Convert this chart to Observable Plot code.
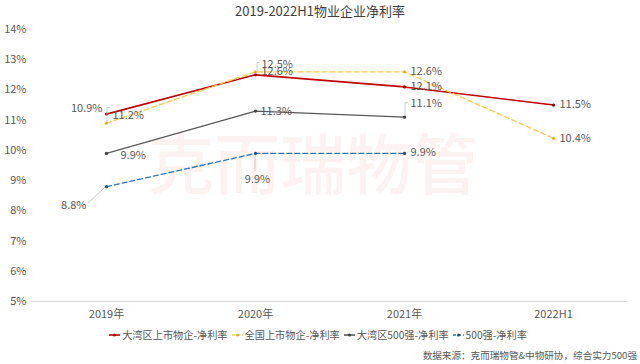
<!DOCTYPE html>
<html>
<head>
<meta charset="utf-8">
<script src="https://cdn.jsdelivr.net/npm/d3@7"></script>
<script src="https://cdn.jsdelivr.net/npm/@observablehq/plot@0.6"></script>
<style>
  html, body { margin: 0; padding: 0; background: #fff; }
  #wrap { position: relative; width: 640px; height: 364px; overflow: hidden;
          font-family: "Noto Sans CJK SC", "Noto Sans", sans-serif; color: #595959; }
  #title { position: absolute; left: 0; width: 640px; top: 1px; text-align: center;
           font-size: 13px; color: #404040; }
  #watermark { position: absolute; left: 148px; top: 112px; font-size: 66px; letter-spacing: 0px;
               color: rgba(226, 110, 100, 0.09); font-weight: 500; white-space: nowrap; }
  #chart { position: absolute; left: 0; top: 0; }
  #legend { position: absolute; left: 0; width: 640px; top: 327px; display: flex; justify-content: center;
            font-size: 10.2px; color: #595959; gap: 4px; padding-right: 4px; box-sizing: border-box; }
  .item { display: flex; align-items: center; gap: 2px; }
  #note { position: absolute; right: 3px; top: 348px; font-size: 9.6px; color: #595959; }
</style>
</head>
<body>
<div id="wrap">
  <div id="watermark"></div>
  <div id="chart"></div>
  <div id="title"></div>
  <div id="legend"></div>
  <div id="note"></div>
</div>
<script>
// ---- data ----
const titleText = "2019-2022H1物业企业净利率";
const years = ["2019年", "2020年", "2021年", "2022H1"];
const seriesNames = ["大湾区上市物企-净利率", "全国上市物企-净利率", "大湾区500强-净利率", "500强-净利率"];
const gbaListed = [11.2, 12.5, 12.1, 11.5];
const nationalListed = [10.9, 12.6, 12.6, 10.4];
const gba500 = [9.9, 11.3, 11.1, null];
const top500 = [8.8, 9.9, 9.9, null];
const yTicks = [5, 6, 7, 8, 9, 10, 11, 12, 13, 14];
const noteText = "数据来源：克而瑞物管&中物研协，综合实力500强";
const watermarkText = "克而瑞物管";

// ---- styles ----
const styles = [
  {stroke: "#C00000", dot: "#A00000", dash: null, width: 1.6},
  {stroke: "#F7CB4D", dot: "#E0B030", dash: "5,3", width: 1.3},
  {stroke: "#595959", dot: "#404040", dash: null, width: 1.2},
  {stroke: "#2E75B6", dot: "#1F4E79", dash: "5,3", width: 1.3}
];
// label placement per series/year: [dx, dy, anchor, leader]
const place = [
  [[6, 1, "start"], [6, -10, "start", "up"], [6, 0, "start"], [6, -1, "start"]],
  [[-4, -15, "end", "v"], [6, 0, "start"], [6, 0, "start"], [6, 0, "start"]],
  [[14, 2, "start"], [5, 0, "start"], [6, -14, "start", "v"], null],
  [[-20, 19, "end", "diag"], [2, 26, "middle", "down"], [6, -1, "start"], null]
];

const allSeries = [gbaListed, nationalListed, gba500, top500];
const rows = [];
allSeries.forEach((vals, s) => vals.forEach((v, i) => {
  if (v != null) rows.push({series: seriesNames[s], s, i, year: years[i], value: v});
}));

const marks = [];
marks.push(Plot.ruleY([5], {stroke: "#d9d9d9", strokeWidth: 1}));
allSeries.forEach((vals, s) => {
  const d = rows.filter(r => r.s === s);
  const st = styles[s];
  marks.push(Plot.line(d, {x: "year", y: "value", stroke: st.stroke, strokeWidth: st.width,
    strokeDasharray: st.dash ?? undefined}));
  marks.push(Plot.dot(d, {x: "year", y: "value", r: 1.6, fill: st.dot, stroke: "none"}));
});

// leader lines
marks.push((index, scales) => {
  const g = d3.create("svg:g").attr("fill", "none").attr("stroke", "#bfbfbf").attr("stroke-width", 0.8);
  rows.forEach(r => {
    const p = place[r.s][r.i];
    if (!p || !p[3]) return;
    const x0 = scales.x(r.year), y0 = scales.y(r.value);
    let path;
    if (p[3] === "v") path = `M${x0 + 1},${y0 - 1}V${y0 + p[1]}H${x0 + 4}`;
    else if (p[3] === "up") path = `M${x0 + 2},${y0 - 1}V${y0 + p[1] - 2}H${x0 + 5}`;
    else if (p[3] === "down") path = `M${x0},${y0 + 2}V${y0 + p[1] - 8}`;
    else if (p[3] === "diag") path = `M${x0 - 1},${y0 + 1}L${x0 + p[0] + 2},${y0 + p[1] - 2}`;
    g.append("path").attr("d", path);
  });
  return g.node();
});

// data labels
rows.forEach(r => {
  const p = place[r.s][r.i];
  marks.push(Plot.text([r], {x: "year", y: "value", text: d => d.value.toFixed(1) + "%",
    dx: p[0], dy: p[1], textAnchor: p[2], fill: "#595959", fontSize: 11}));
});

const chart = Plot.plot({
  width: 640,
  height: 364,
  marginTop: 29,
  marginBottom: 63,
  marginLeft: 31,
  marginRight: 13,
  style: {background: "transparent", fontFamily: "'Noto Sans CJK SC', 'Noto Sans', sans-serif", fontSize: "11px", color: "#595959"},
  x: {type: "point", domain: years, padding: 0.5, label: null},
  y: {domain: [5, 14], label: null},
  marks: [
    Plot.axisY(yTicks, {tickSize: 0, tickPadding: 5, tickFormat: d => d + "%", fill: "#595959", fontSize: 11, label: null}),
    Plot.axisX({tickSize: 0, tickPadding: 9, fill: "#595959", fontSize: 11, label: null}),
    ...marks
  ]
});
document.getElementById("chart").appendChild(chart);

document.getElementById("title").textContent = titleText;
document.getElementById("note").textContent = noteText;
document.getElementById("watermark").textContent = watermarkText;

const legend = document.getElementById("legend");
seriesNames.forEach((name, s) => {
  const st = styles[s];
  const item = document.createElement("div");
  item.className = "item";
  item.innerHTML = `<svg width="11" height="8"><line x1="0" x2="11" y1="4" y2="4" stroke="${st.stroke}" stroke-width="1.6" ${st.dash ? 'stroke-dasharray="3,2"' : ''}/><circle cx="5.5" cy="4" r="1.5" fill="${st.dot}"/></svg><span></span>`;
  item.querySelector("span").textContent = name;
  legend.appendChild(item);
});
</script>
</body>
</html>
